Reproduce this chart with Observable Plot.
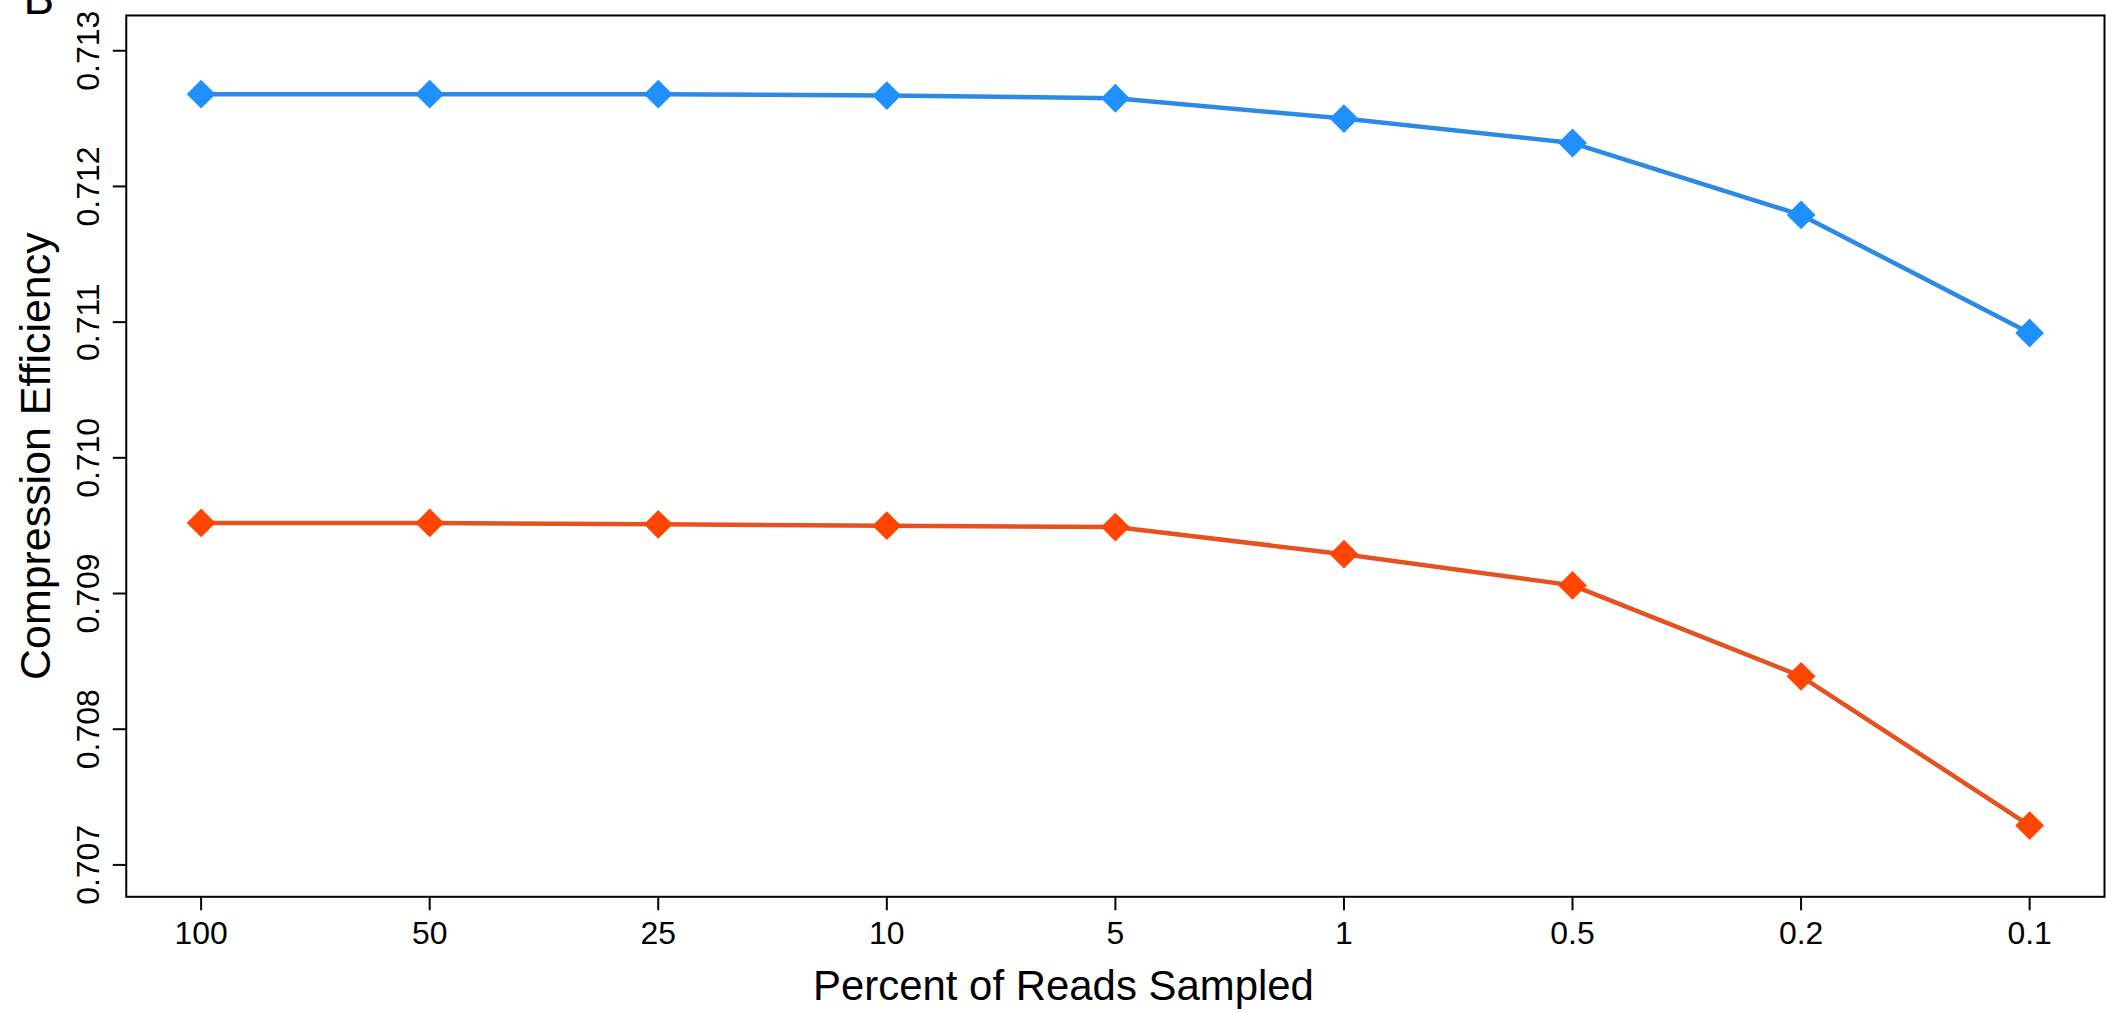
<!DOCTYPE html>
<html>
<head>
<meta charset="utf-8">
<script src="https://cdn.jsdelivr.net/npm/d3@7"></script>
<script src="https://cdn.jsdelivr.net/npm/@observablehq/plot@0.6"></script>
<style>
  html, body { margin: 0; padding: 0; background: #fff; overflow: hidden; }
  #chart { width: 2106px; height: 1013px; overflow: hidden; }
</style>
</head>
<body>
<div id="chart"></div>
<script>
// Categories (x axis: percent of reads sampled)
const categories = ["100", "50", "25", "10", "5", "1", "0.5", "0.2", "0.1"];
// Series values (compression efficiency)
const blueValues   = [0.71268, 0.71268, 0.71268, 0.71267, 0.71265, 0.71250, 0.71232, 0.71179, 0.71092];
const orangeValues = [0.70952, 0.70952, 0.70951, 0.70950, 0.70949, 0.70929, 0.70906, 0.70839, 0.70729];
// Y tick values
const yTicks = [0.707, 0.708, 0.709, 0.710, 0.711, 0.712, 0.713];
const xTitle = "Percent of Reads Sampled";
const yTitle = "Compression Efficiency";
const panelLabel = "B";

const blueRows = categories.map((c, i) => ({pct: c, value: blueValues[i]}));
const orangeRows = categories.map((c, i) => ({pct: c, value: orangeValues[i]}));

const blue = "#1E90FF", blueLine = "#2d8ae4";
const orange = "#FF4500", orangeLine = "#e4521f";

const chart = Plot.plot({
  width: 2110,
  height: 1013,
  marginLeft: 126,
  marginRight: 2,
  marginTop: 15,
  marginBottom: 115,
  style: {fontFamily: "'Liberation Sans', Arial, sans-serif", fontSize: "32px", color: "#000", background: "#fff", overflow: "visible"},
  x: {type: "point", domain: categories, padding: 0.322},
  y: {domain: [0.706765, 0.71326]},
  marks: [
    Plot.frame({stroke: "#000", strokeWidth: 2}),
    Plot.axisX({tickSize: 14, tickPadding: 11, strokeWidth: 2, label: null, fontSize: 32}),
    Plot.axisY({ticks: yTicks, tickSize: 13, strokeWidth: 2, tickFormat: () => "", label: null}),
    Plot.text(yTicks, {y: d => d, text: d => d.toFixed(3), frameAnchor: "left", dx: -27, rotate: -90, textAnchor: "middle", lineAnchor: "bottom", fontSize: 32, fill: "#000"}),
    Plot.line(blueRows, {x: "pct", y: "value", stroke: blueLine, strokeWidth: 4.5}),
    Plot.line(orangeRows, {x: "pct", y: "value", stroke: orangeLine, strokeWidth: 4.5}),
    Plot.dot(blueRows, {x: "pct", y: "value", symbol: "diamond2", r: 13, fill: blue, stroke: "none"}),
    Plot.dot(orangeRows, {x: "pct", y: "value", symbol: "diamond2", r: 13, fill: orange, stroke: "none"}),
    Plot.text([xTitle], {text: d => d, frameAnchor: "bottom", dx: -52, dy: 103, lineAnchor: "bottom", textAnchor: "middle", fontSize: 42, fill: "#000"}),
    Plot.text([yTitle], {text: d => d, frameAnchor: "left", dx: -76, rotate: -90, lineAnchor: "bottom", textAnchor: "middle", fontSize: 43, fill: "#000"}),
    Plot.text([panelLabel], {text: d => d, frameAnchor: "top-left", dx: -103, dy: -1, lineAnchor: "bottom", textAnchor: "start", fontSize: 46, fill: "#000"})
  ]
});
document.getElementById("chart").appendChild(chart);
</script>
</body>
</html>
